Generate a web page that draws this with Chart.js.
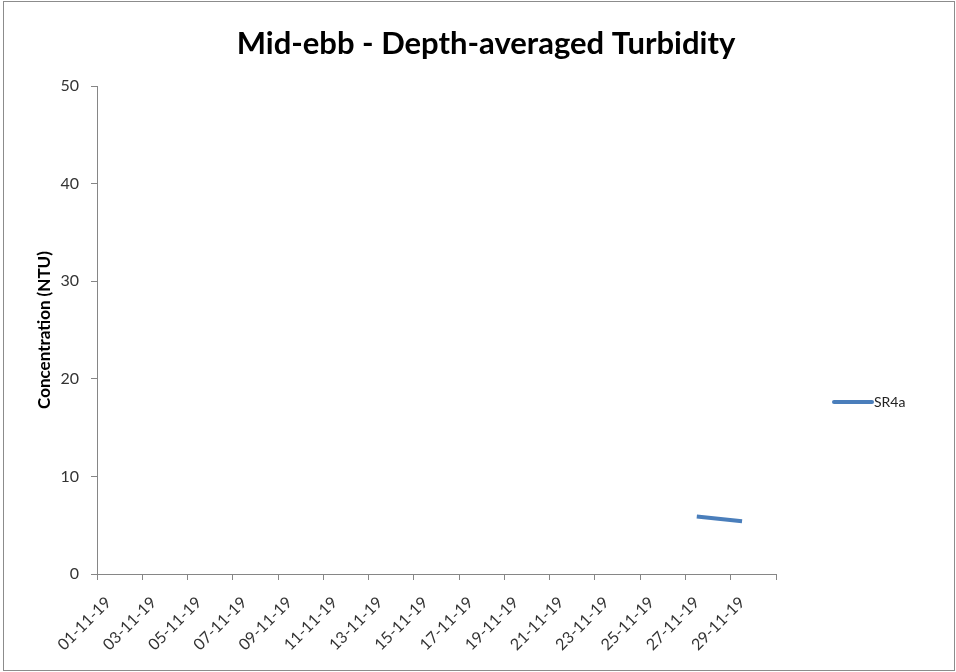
<!DOCTYPE html>
<html>
<head>
<meta charset="utf-8">
<script src="https://cdn.jsdelivr.net/npm/chart.js@4/dist/chart.umd.min.js"></script>
<style>
html,body{margin:0;padding:0;background:#fff;}
#wrap{position:relative;width:956px;height:672px;}
</style>
</head>
<body>
<div id="wrap"><canvas id="c" width="956" height="672"></canvas></div>
<script>
const chartTitle = 'Mid-ebb - Depth-averaged Turbidity';
const yAxisTitle = 'Concentration (NTU)';
const seriesName = 'SR4a';
const categories = ['01-11-19','02-11-19','03-11-19','04-11-19','05-11-19','06-11-19','07-11-19','08-11-19','09-11-19','10-11-19',
  '11-11-19','12-11-19','13-11-19','14-11-19','15-11-19','16-11-19','17-11-19','18-11-19','19-11-19','20-11-19',
  '21-11-19','22-11-19','23-11-19','24-11-19','25-11-19','26-11-19','27-11-19','28-11-19','29-11-19','30-11-19'];
const sr4aValues = [null,null,null,null,null,null,null,null,null,null,
  null,null,null,null,null,null,null,null,null,null,
  null,null,null,null,null,null,5.9,null,5.4,null];
const yTicks = [0,10,20,30,40,50];

const FONT = 'Lato, "Open Sans", sans-serif';
const AXIS = '#868686';

const framePlugin = {
  id: 'frame',
  beforeDraw(chart) {
    const ctx = chart.ctx;
    ctx.save();
    ctx.fillStyle = '#fff';
    ctx.fillRect(0, 0, chart.width, chart.height);
    ctx.strokeStyle = '#8c8c8c';
    ctx.lineWidth = 1;
    ctx.strokeRect(3.5, 1.5, chart.width - 5, chart.height - 3);
    ctx.restore();
  },
  afterDraw(chart) {
    const ctx = chart.ctx;
    ctx.save();
    ctx.fillStyle = '#000';
    ctx.font = 'bold 31px ' + FONT;
    ctx.textAlign = 'center';
    ctx.textBaseline = 'alphabetic';
    ctx.fillText(chartTitle, 486, 54);
    ctx.restore();
  }
};

const legendPlugin = {
  id: 'sideLegend',
  afterDraw(chart) {
    const ctx = chart.ctx;
    const ds = chart.data.datasets[0];
    const x0 = chart.chartArea.right + 58;
    const y0 = 402;
    ctx.save();
    ctx.strokeStyle = ds.borderColor;
    ctx.lineWidth = 4;
    ctx.lineCap = 'round';
    ctx.beginPath();
    ctx.moveTo(x0, y0);
    ctx.lineTo(x0 + 38, y0);
    ctx.stroke();
    ctx.fillStyle = '#222';
    ctx.font = '14px ' + FONT;
    ctx.textBaseline = 'middle';
    ctx.fillText(ds.label, x0 + 40, y0);
    ctx.restore();
  }
};

new Chart(document.getElementById('c'), {
  type: 'line',
  data: {
    labels: categories,
    datasets: [{
      label: seriesName,
      data: sr4aValues,
      borderColor: '#4A7EBB',
      borderWidth: 4,
      pointRadius: 0,
      spanGaps: true,
      tension: 0
    }]
  },
  options: {
    responsive: false,
    animation: false,
    layout: { padding: { left: 0, right: 180, top: 86, bottom: 0 } },
    plugins: {
      legend: { display: false },
      tooltip: { enabled: false },
      title: { display: false }
    },
    scales: {
      x: {
        type: 'category',
        offset: true,
        grid: {
          offset: true,
          drawOnChartArea: false,
          drawTicks: true,
          tickLength: 6,
          color: (c) => (c.index === undefined || c.index % 2 === 0) ? AXIS : 'rgba(0,0,0,0)'
        },
        border: { color: AXIS, width: 1 },
        ticks: {
          autoSkip: false,
          maxRotation: 45,
          minRotation: 45,
          color: '#333',
          padding: 13,
          font: { family: FONT, size: 16 },
          callback: function (value, index) { return index % 2 === 0 ? this.getLabelForValue(value) : ''; }
        },
        afterFit: (s) => { s.height = 98; }
      },
      y: {
        min: 0,
        max: 50,
        afterBuildTicks: (s) => { s.ticks = yTicks.map(v => ({ value: v })); },
        grid: { drawOnChartArea: false, drawTicks: true, tickLength: 6, color: AXIS },
        border: { color: AXIS, width: 1 },
        ticks: { color: '#333', padding: 12, font: { family: FONT, size: 16 } },
        title: {
          display: true,
          text: yAxisTitle,
          color: '#000',
          font: { family: FONT, size: 17, weight: 'bold' },
          padding: { top: 34, bottom: 0 }
        },
        afterFit: (s) => { s.width = 97; }
      }
    }
  },
  plugins: [framePlugin, legendPlugin]
});
</script>
</body>
</html>
